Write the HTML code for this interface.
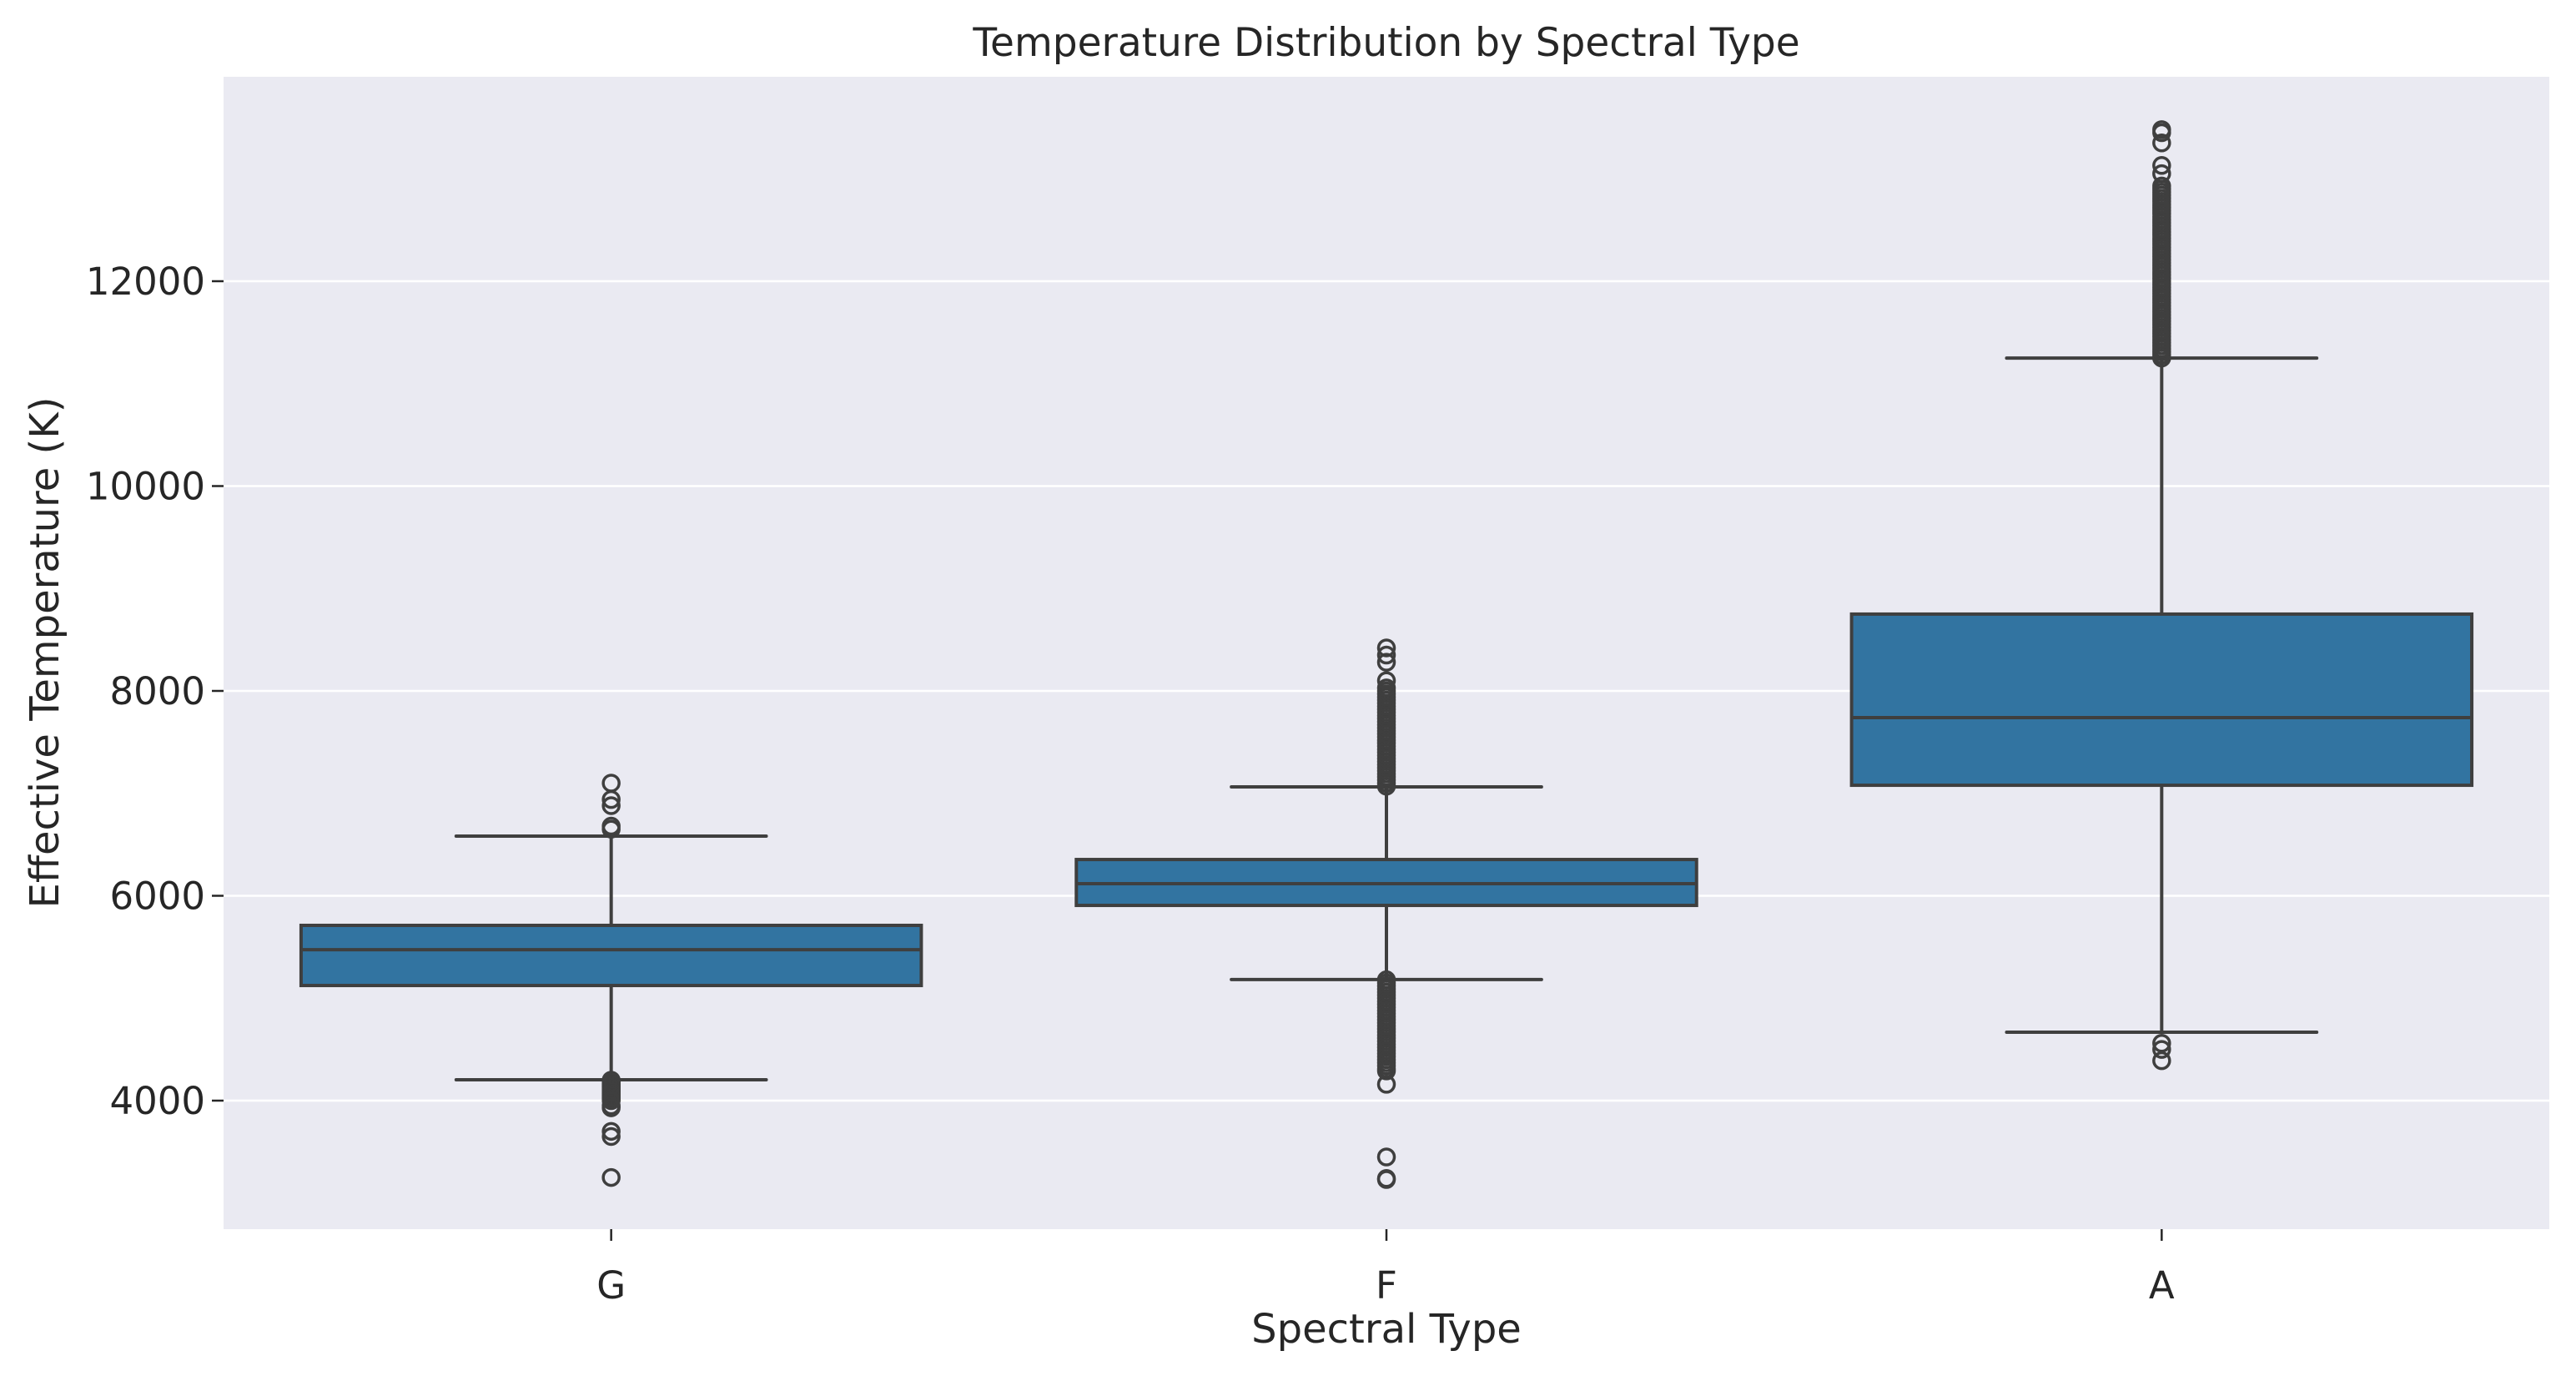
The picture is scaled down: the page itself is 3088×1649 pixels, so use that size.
<!DOCTYPE html>
<html><head><meta charset="utf-8"><style>
html,body{margin:0;padding:0;background:#fff;}
svg{display:block;font-family:"DejaVu Sans","Liberation Sans",sans-serif;}
</style></head><body>
<svg id="chart" width="3088" height="1649" xmlns="http://www.w3.org/2000/svg">
<rect x="268" y="92" width="2788" height="1381" fill="#eaeaf2"/>
<g id="grid"></g>
<g id="boxes"></g>
<g id="axes"></g>
<text x="1662" y="67" text-anchor="middle" font-size="47" fill="#262626">Temperature Distribution by Spectral Type</text>
<text x="1662" y="1609" text-anchor="middle" font-size="48" fill="#262626">Spectral Type</text>
<text transform="translate(70,782) rotate(-90)" text-anchor="middle" font-size="48" fill="#262626">Effective Temperature (K)</text>
</svg>
<script>
const categories = ["G","F","A"];
const q1Values = [5124, 5906, 7079];
const medianValues = [5474, 6118, 7739];
const q3Values = [5711, 6354, 8750];
const whiskerLow = [4204, 5182, 4668];
const whiskerHigh = [6582, 7063, 11250];
const outliersG = [7100,6940,6880,6680,6650,4200,4190,4180,4170,4160,4150,4140,4130,4120,4110,4100,4090,4080,4070,4060,4050,4040,4030,4020,4010,4000,3950,3930,3700,3650,3250];
const outliersF = [7070,7100,7130,7160,7190,7220,7250,7280,7310,7340,7370,7400,7430,7460,7490,7520,7550,7580,7610,7640,7670,7700,7730,7760,7790,7820,7850,7880,7910,7940,7970,8000,8030,8100,8280,8350,8420,5180,5150,5120,5090,5060,5030,5000,4970,4940,4910,4880,4850,4820,4790,4760,4730,4700,4670,4640,4610,4580,4550,4520,4490,4460,4430,4400,4370,4340,4310,4290,4160,3450,3240,3230];
const outliersA = [11250,11280,11310,11340,11370,11400,11430,11460,11490,11520,11550,11580,11610,11640,11670,11700,11730,11760,11790,11820,11850,11880,11910,11940,11970,12000,12030,12060,12090,12120,12150,12180,12210,12240,12270,12300,12330,12360,12390,12420,12450,12480,12510,12540,12570,12600,12630,12660,12690,12720,12750,12780,12810,12840,12870,12900,12930,13050,13130,13350,13450,13480,4560,4500,4390];
const yTicks = [4000,6000,8000,10000,12000];
const yTickLabels = ["4000","6000","8000","10000","12000"];

const NS="http://www.w3.org/2000/svg";
const L=268,R=3056,T=92,B=1473;
const band=(R-L)/categories.length;
function xPos(i){return L+band*(i+0.5);}
function yPos(v){return 1319-(v-4000)*0.12275;}
function mk(tag,attrs,parent){const e=document.createElementNS(NS,tag);for(const k in attrs)e.setAttribute(k,attrs[k]);parent.appendChild(e);return e;}
const grid=document.getElementById('grid'),boxes=document.getElementById('boxes'),axes=document.getElementById('axes');
yTicks.forEach((v,i)=>{
  const g=mk('line',{x1:L,x2:R,y1:yPos(v),y2:yPos(v),stroke:'#fff','stroke-width':2.5},grid);
  
  
  const t=mk('line',{x1:L-14,x2:L,y1:yPos(v),y2:yPos(v),stroke:'#262626','stroke-width':2.5},axes);
  
  
  const lb=mk('text',{x:L-22,y:yPos(v)+16,'text-anchor':'end','font-size':45,fill:'#262626'},axes);
  lb.textContent=yTickLabels[i];
  
  
});
const outs=[outliersG,outliersF,outliersA];
categories.forEach((c,i)=>{
  const cx=xPos(i),w=band*0.8,cw=band*0.4;
  const grp=mk('g',{},boxes);
  
  
  mk('line',{x1:cx,x2:cx,y1:yPos(q3Values[i]),y2:yPos(whiskerHigh[i]),stroke:'#3f3f3f','stroke-width':4},grp);
  mk('line',{x1:cx,x2:cx,y1:yPos(q1Values[i]),y2:yPos(whiskerLow[i]),stroke:'#3f3f3f','stroke-width':4},grp);
  mk('line',{x1:cx-cw/2,x2:cx+cw/2,y1:yPos(whiskerHigh[i]),y2:yPos(whiskerHigh[i]),stroke:'#3f3f3f','stroke-width':4,'stroke-linecap':'round'},grp);
  mk('line',{x1:cx-cw/2,x2:cx+cw/2,y1:yPos(whiskerLow[i]),y2:yPos(whiskerLow[i]),stroke:'#3f3f3f','stroke-width':4,'stroke-linecap':'round'},grp);
  mk('rect',{x:cx-w/2,y:yPos(q3Values[i]),width:w,height:yPos(q1Values[i])-yPos(q3Values[i]),fill:'#3274a1',stroke:'#3f3f3f','stroke-width':4},grp);
  mk('line',{x1:cx-w/2,x2:cx+w/2,y1:yPos(medianValues[i]),y2:yPos(medianValues[i]),stroke:'#3f3f3f','stroke-width':4},grp);
  outs[i].forEach(v=>{
    const o=mk('circle',{cx:cx,cy:yPos(v),r:9.5,fill:'none',stroke:'#3f3f3f','stroke-width':3.5},grp);
    
    
  });
  const t=mk('line',{x1:cx,x2:cx,y1:B,y2:B+14,stroke:'#262626','stroke-width':2.5},axes);
  
  
  const lb=mk('text',{x:cx,y:B+83,'text-anchor':'middle','font-size':45,fill:'#262626'},axes);
  lb.textContent=c;
  
  
});
</script>
</body></html>
